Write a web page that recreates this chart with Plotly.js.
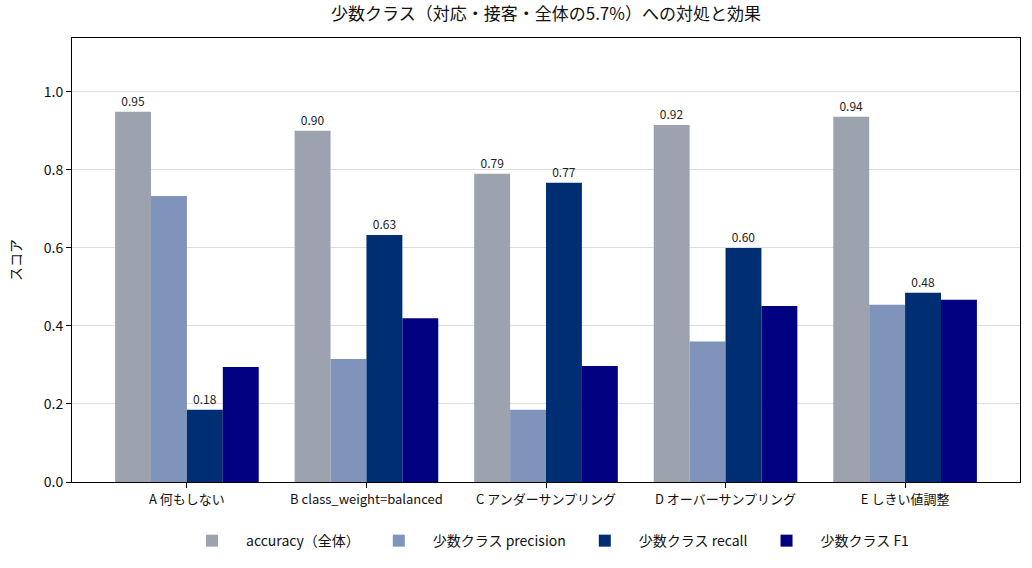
<!DOCTYPE html>
<html><head><meta charset="utf-8">
<script src="https://cdn.plot.ly/plotly-3.0.1.min.js"></script>
<style>body{margin:0;background:#fff}#c{width:1032px;height:568px}</style>
</head><body><div id="c"></div>
<script>
const categories = ["A 何もしない", "B class_weight=balanced", "C アンダーサンプリング", "D オーバーサンプリング", "E しきい値調整"];
const seriesNames = ["accuracy（全体）", "少数クラス precision", "少数クラス recall", "少数クラス F1"];
const accuracy = [0.949, 0.900, 0.790, 0.915, 0.936];
const precision = [0.733, 0.315, 0.185, 0.360, 0.454];
const recall = [0.185, 0.633, 0.767, 0.600, 0.485];
const f1 = [0.295, 0.420, 0.297, 0.451, 0.467];
const colors = ["#9ca3af", "#7f93bb", "#002e73", "#000080"];
const labelled = [true, false, true, false];
const values = [accuracy, precision, recall, f1];

const font = "'Noto Sans CJK JP', 'Noto Sans', sans-serif";
const traces = values.map((v, i) => ({
  type: "bar",
  name: seriesNames[i],
  x: categories,
  y: v,
  marker: {color: colors[i], line: {width: 0}},
  text: labelled[i] ? v.map(d => d.toFixed(2)) : undefined,
  textposition: labelled[i] ? "outside" : "none",
  textfont: {size: 12, color: "#222", family: font},
  cliponaxis: false,
  hoverinfo: "y+name"
}));

const layout = {
  width: 1032, height: 568,
  margin: {l: 72, r: 12, t: 38, b: 86, autoexpand: false},
  paper_bgcolor: "#fff", plot_bgcolor: "#fff",
  font: {family: font, color: "#111"},
  title: {text: "少数クラス（対応・接客・全体の5.7%）への対処と効果", font: {size: 17, family: font, color: "#111"}, x: 0.5, xanchor: "center", xref: "paper", y: 0.985, yanchor: "top"},
  barmode: "group", bargap: 0.2, bargroupgap: 0,
  xaxis: {
    range: [-0.64, 4.64],
    showline: true, linecolor: "#000", linewidth: 1, mirror: true,
    ticks: "outside", ticklen: 5, tickcolor: "#000",
    tickfont: {size: 13, family: font, color: "#111"}
  },
  yaxis: {
    range: [0, 1.138], dtick: 0.2, tickformat: ".1f",
    showline: true, linecolor: "#000", linewidth: 1, mirror: true,
    ticks: "outside", ticklen: 5, tickcolor: "#000",
    showgrid: true, gridcolor: "#dddddd", zeroline: false,
    tickfont: {size: 14, family: font, color: "#111"},
    title: {text: "スコア", font: {size: 14, family: font, color: "#111"}, standoff: 18}
  },
  legend: {
    orientation: "h", x: 0.5, xanchor: "center", y: -0.133, yanchor: "middle",
    font: {size: 14, family: font, color: "#111"}, itemwidth: 58, tracegroupgap: 0
  },
  showlegend: true
};
Plotly.newPlot("c", traces, layout, {displayModeBar: false, staticPlot: true});
</script></body></html>
